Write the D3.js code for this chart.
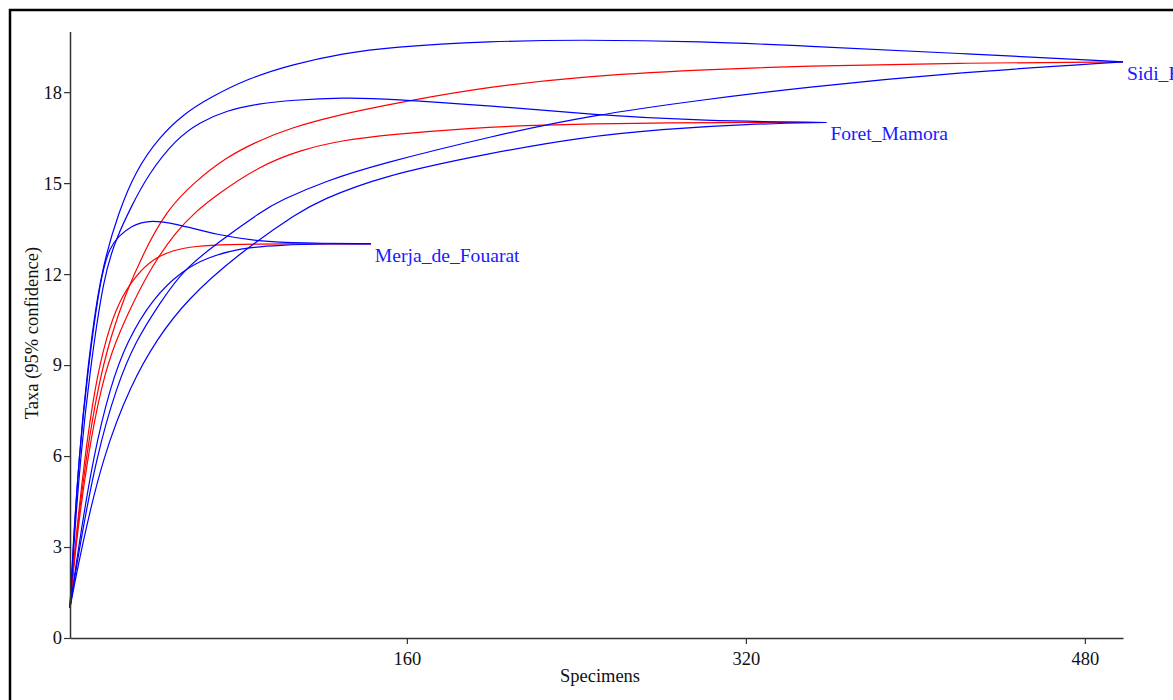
<!DOCTYPE html>
<html>
<head>
<meta charset="utf-8">
<script src="https://d3js.org/d3.v7.min.js"></script>
<style>
  html, body { margin: 0; padding: 0; background: #fff; overflow: hidden; }
  svg { display: block; }
</style>
</head>
<body>
<svg id="chart" width="1173" height="700"></svg>
<script>
// ---------- data (specimens, taxa) ----------
const sampleNames = ["Merja_de_Fouarat", "Foret_Mamora", "Sidi_Boughaba"];
const xTicks = [160, 320, 480];
const yTicks = [0, 3, 6, 9, 12, 15, 18];
const xLabel = "Specimens";
const yLabel = "Taxa (95% confidence)";

const merjaMean  = [[1,1],[3.3,3],[8,6],[12.8,8.3],[18,9.9],[24,11.1],[32,11.95],[40,12.5],[50,12.8],[60,12.92],[75,12.98],[100,13],[143,13]];
const merjaUpper = [[1,1],[2.5,3],[5.3,6],[9,8.6],[15.5,12],[20,12.9],[24,13.25],[30,13.6],[38,13.78],[50,13.68],[71,13.28],[90,13.08],[110,13.02],[143,13]];
const merjaLower = [[1,1],[5,3],[12,6],[20,8.3],[28,9.8],[40,11.2],[54,12.12],[66,12.55],[81,12.86],[100,12.96],[123,13],[143,13]];

const foretMean  = [[1,1],[3.6,3],[9.3,6],[16,8.4],[22.5,9.8],[31,11.1],[40,12.3],[51,13.4],[61,14.1],[70,14.6],[90,15.55],[110,16.1],[130,16.42],[152,16.6],[190,16.82],[223,16.92],[270,16.98],[305,17],[358,17]];
const foretUpper = [[1,1],[2.7,3],[6,6],[10,8.6],[17,12],[23,13.2],[29.7,14.2],[38,15.3],[51,16.45],[62,17.0],[75,17.4],[90,17.62],[106,17.74],[130,17.82],[152,17.78],[200,17.55],[248,17.25],[300,17.05],[358,17]];
const foretLower = [[1,1],[6.5,3],[16.5,6],[30,8.4],[42,9.85],[55.8,11.13],[80,12.65],[110,14.09],[119,14.42],[147,15.22],[200,16.0],[242,16.51],[280,16.78],[321,16.95],[358,17]];

const sidiMean  = [[1,1],[3.4,3],[8.6,6],[14.5,8.4],[20.5,10],[27,11.3],[35,12.6],[46.3,14.09],[60,15.05],[74.7,15.85],[90,16.4],[106,16.84],[125,17.2],[147,17.53],[190,18.1],[242,18.52],[300,18.74],[346,18.86],[420,18.96],[498,19]];
const sidiUpper = [[1,1],[2.4,3],[5.3,6],[8.8,8.6],[15,12],[24.2,14.1],[32,15.4],[43,16.51],[55,17.3],[67,17.82],[85,18.45],[106,18.92],[130,19.28],[152,19.49],[200,19.68],[242,19.73],[300,19.67],[346,19.53],[420,19.28],[498,19]];
const sidiLower = [[1,1],[5.5,3],[13.5,6],[23,8.3],[32,9.8],[44,11.1],[54,12.1],[70,13.0],[91.9,14.09],[100,14.42],[122,15.08],[147,15.63],[200,16.55],[248,17.25],[300,17.75],[346,18.15],[420,18.65],[498,19]];

const samples = [
  { name: sampleNames[0], mean: merjaMean, upper: merjaUpper, lower: merjaLower },
  { name: sampleNames[1], mean: foretMean, upper: foretUpper, lower: foretLower },
  { name: sampleNames[2], mean: sidiMean,  upper: sidiUpper,  lower: sidiLower }
];

// ---------- layout ----------
const svg = d3.select("#chart");
const font = "'Liberation Serif', 'Times New Roman', serif";

svg.append("rect")
  .attr("x", 10).attr("y", 10)
  .attr("width", 1250).attr("height", 760)
  .attr("fill", "none").attr("stroke", "#000").attr("stroke-width", 2.5);

const x = d3.scaleLinear().domain([1, 498]).range([70, 1123]);
const y = d3.scaleLinear().domain([0, 20]).range([638, 31.5]);

const line = d3.line()
  .x(d => x(d[0])).y(d => y(d[1]))
  .curve(d3.curveBasis);

const g = svg.append("g");

samples.forEach(s => {
  g.append("path").attr("d", line(s.mean))
    .attr("fill", "none").attr("stroke", "#ff0000").attr("stroke-width", 1.2);
});
samples.forEach(s => {
  [s.upper, s.lower].forEach(arr => {
    g.append("path").attr("d", line(arr))
      .attr("fill", "none").attr("stroke", "#0000ff").attr("stroke-width", 1.2);
  });
});

// end labels
samples.forEach(s => {
  const last = s.mean[s.mean.length - 1];
  svg.append("text")
    .attr("x", x(last[0]) + 4)
    .attr("y", y(last[1]) + 18)
    .attr("font-family", font).attr("font-size", 19.6)
    .attr("fill", "#1a1aff")
    .text(s.name);
});

// axes
const xAxis = svg.append("g")
  .attr("transform", "translate(0,638)")
  .call(d3.axisBottom(x).tickValues(xTicks).tickSizeInner(6).tickSizeOuter(0).tickPadding(8));
const yAxis = svg.append("g")
  .attr("transform", "translate(70,0)")
  .call(d3.axisLeft(y).tickValues(yTicks).tickSizeInner(6).tickSizeOuter(0).tickPadding(2));

[xAxis, yAxis].forEach(a => {
  a.select(".domain").attr("stroke", "#333").attr("stroke-width", 1.5);
  a.selectAll(".tick line").attr("stroke", "#333").attr("stroke-width", 1.2);
  a.selectAll(".tick text").attr("font-family", font).attr("font-size", 18.5).attr("fill", "#111");
});

svg.append("text")
  .attr("x", 600).attr("y", 682)
  .attr("text-anchor", "middle")
  .attr("font-family", font).attr("font-size", 18.5).attr("fill", "#111")
  .text(xLabel);

svg.append("text")
  .attr("transform", "translate(38,333) rotate(-90)")
  .attr("text-anchor", "middle")
  .attr("font-family", font).attr("font-size", 18.5).attr("fill", "#111")
  .text(yLabel);
</script>
</body>
</html>
